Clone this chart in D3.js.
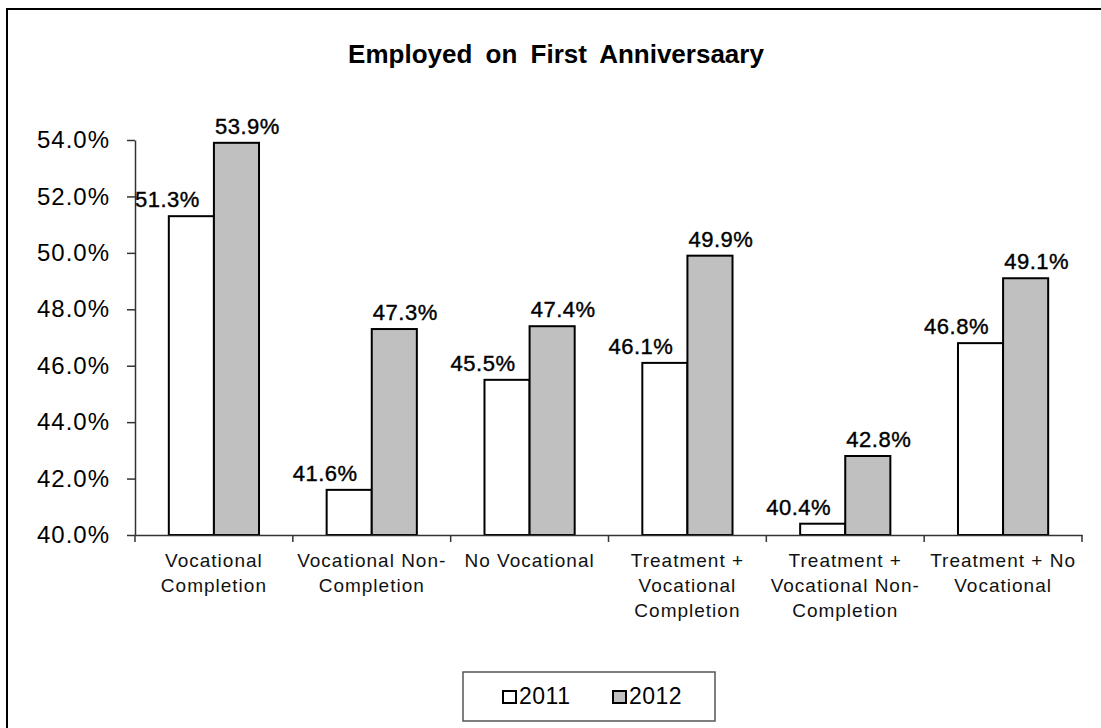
<!DOCTYPE html>
<html>
<head>
<meta charset="utf-8">
<script src="https://cdn.jsdelivr.net/npm/d3@7"></script>
<style>
  body { margin: 0; background: #fff; }
  svg { display: block; font-family: "Liberation Sans", Arial, sans-serif; }
</style>
</head>
<body>
<svg id="chart" width="1101" height="728"></svg>
<script>
// Chart data
const categories = [
  "Vocational Completion",
  "Vocational Non-Completion",
  "No Vocational",
  "Treatment + Vocational Completion",
  "Treatment + Vocational Non-Completion",
  "Treatment + No Vocational"
];
// how each category label wraps under the axis
const categoryLines = [
  ["Vocational", "Completion"],
  ["Vocational Non-", "Completion"],
  ["No Vocational"],
  ["Treatment +", "Vocational", "Completion"],
  ["Treatment +", "Vocational Non-", "Completion"],
  ["Treatment + No", "Vocational"]
];
const seriesNames = ["2011", "2012"];
const values2011 = [51.3, 41.6, 45.5, 46.1, 40.4, 46.8];
const values2012 = [53.9, 47.3, 47.4, 49.9, 42.8, 49.1];
const yTicks = [40, 42, 44, 46, 48, 50, 52, 54];

const seriesValues = [values2011, values2012];
const fills = ["#ffffff", "#c0c0c0"];
const labelShift = [-24, 11]; // labels sit off-centre in the original

// Setup
const width = 1101;
const height = 728;
const svg = d3.select("#chart");

// outer frame, runs off the right and bottom edges
svg.append("rect")
  .attr("x", 7).attr("y", 9)
  .attr("width", 1110).attr("height", 740)
  .attr("fill", "#fff")
  .attr("stroke", "#000")
  .attr("stroke-width", 2);

svg.append("text")
  .attr("x", 556).attr("y", 63)
  .attr("text-anchor", "middle")
  .attr("font-size", 26)
  .attr("font-weight", "bold")
  .attr("word-spacing", 6)
  .text("Employed on First Anniversaary");

const x = d3.scaleBand().domain(categories).range([135, 1082]).padding(0);
const x1 = d3.scaleBand().domain(seriesNames).range([0, x.bandwidth()]).paddingInner(0).paddingOuter(0.75);
const y = d3.scaleLinear().domain([40, 54]).range([535, 140]);

// Y axis
const yAxis = svg.append("g")
  .attr("transform", "translate(135,0)")
  .call(d3.axisLeft(y)
    .tickValues(yTicks)
    .tickFormat((d) => d3.format(".1f")(d) + "%")
    .tickSize(8)
    .tickSizeOuter(0)
    .tickPadding(17));
yAxis.select(".domain").attr("stroke", "#333").attr("stroke-width", 1.5);
yAxis.selectAll(".tick line").attr("stroke", "#333").attr("stroke-width", 1.5);
yAxis.selectAll(".tick text")
  .attr("font-family", "Liberation Sans, Arial, sans-serif")
  .attr("font-size", 24)
  .attr("letter-spacing", 1)
  .attr("fill", "#000");

// Bars
const groups = svg.append("g")
  .selectAll("g")
  .data(categories)
  .join("g")
  .attr("transform", (d) => `translate(${x(d)},0)`);

groups.selectAll("rect")
  .data((d, i) => seriesNames.map((s, k) => ({ s, k, v: seriesValues[k][i] })))
  .join("rect")
  .attr("x", (d) => x1(d.s))
  .attr("y", (d) => y(d.v))
  .attr("width", x1.bandwidth())
  .attr("height", (d) => y(40) - y(d.v))
  .attr("fill", (d) => fills[d.k])
  .attr("stroke", "#000")
  .attr("stroke-width", 2);

groups.selectAll("text")
  .data((d, i) => seriesNames.map((s, k) => ({ s, k, v: seriesValues[k][i] })))
  .join("text")
  .attr("x", (d) => x1(d.s) + x1.bandwidth() / 2 + labelShift[d.k])
  .attr("y", (d) => y(d.v) - 9)
  .attr("text-anchor", "middle")
  .attr("font-size", 22)
  .attr("letter-spacing", 0.5)
  .attr("stroke", "#000")
  .attr("stroke-width", 0.4)
  .text((d) => d3.format(".1f")(d.v) + "%");

// X axis, ticks on the category boundaries
const xAxis = svg.append("g")
  .attr("transform", "translate(0,535)")
  .call(d3.axisBottom(x).tickSize(0).tickSizeOuter(0).tickFormat(""));
xAxis.select(".domain").attr("stroke", "#333").attr("stroke-width", 1.5);

const edges = categories.map((c) => x(c)).concat([x.range()[1]]);
svg.append("g")
  .selectAll("line")
  .data(edges)
  .join("line")
  .attr("x1", (d) => d).attr("x2", (d) => d)
  .attr("y1", 535).attr("y2", 542)
  .attr("stroke", "#333")
  .attr("stroke-width", 1.5);

svg.append("g")
  .selectAll("text")
  .data(categories)
  .join("text")
  .attr("x", (d) => x(d) + x.bandwidth() / 2)
  .attr("y", 567)
  .attr("text-anchor", "middle")
  .attr("font-size", 19)
  .attr("letter-spacing", 1)
  .attr("fill", "#111")
  .each(function (d, i) {
    const t = d3.select(this);
    categoryLines[i].forEach((line, j) => {
      t.append("tspan")
        .attr("x", x(d) + x.bandwidth() / 2)
        .attr("dy", j === 0 ? 0 : 25)
        .text(line);
    });
  });

// Legend
svg.append("rect")
  .attr("x", 463).attr("y", 672)
  .attr("width", 252).attr("height", 49)
  .attr("fill", "#fff")
  .attr("stroke", "#555")
  .attr("stroke-width", 1.5);

const legendX = [503, 613];
const legend = svg.append("g")
  .selectAll("g")
  .data(seriesNames)
  .join("g")
  .attr("transform", (d, i) => `translate(${legendX[i]},691)`);
legend.append("rect")
  .attr("width", 13).attr("height", 12)
  .attr("fill", (d, i) => fills[i])
  .attr("stroke", "#000")
  .attr("stroke-width", 2);
legend.append("text")
  .attr("x", 16).attr("y", 13)
  .attr("font-size", 23)
  .attr("letter-spacing", 0.5)
  .text((d) => d);
</script>
</body>
</html>
